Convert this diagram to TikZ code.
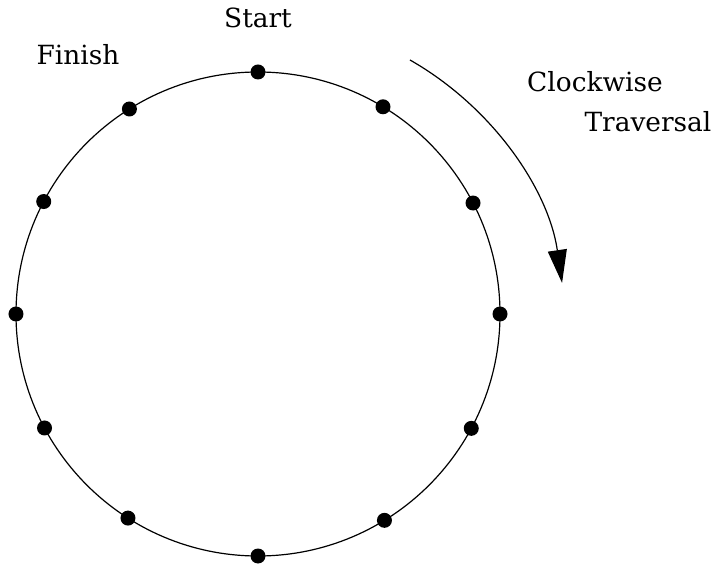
\documentclass[tikz,border=0pt]{standalone}
\usepackage{fontspec}
\setmainfont{DejaVu Serif}
\usetikzlibrary{arrows.meta,calc,positioning}
\tikzset{
  dot/.style={circle,fill=black,inner sep=0pt,minimum size=15bp},
  lbl/.style={font=\fontsize{26.5}{31}\selectfont,inner sep=0pt,anchor=base}
}

\begin{document}
\begin{tikzpicture}[x=1bp,y=1bp,>={Triangle[length=33bp,width=19bp]}]
      \useasboundingbox (-258,-251) rectangle (457,314);
      \coordinate (O) at (0,0);
      \draw[line width=1.2bp] (O) circle[radius=242];
      \foreach \a [count=\i] in {90,58.9,27.3,0,-28.2,-58.5,-90,-122.5,-151.9,180,152.3,122.1}
        \node[dot] (p\i) at ($(O)+(\a:242)$) {};
      \node[lbl] (start) at (0,286) {Start};
      \node[lbl] (finish) at (-180,249) {Finish};
      \node[lbl] (cw) at (337,222) {Clockwise};
      \node[lbl] (trav) at (390,182) {Traversal};
      % arrow arc, centre a little below O
      \coordinate (A) at (152,254);
      \draw[->,line width=1.2bp] (A) arc[start angle=60.35,end angle=8.24,radius=307.2];
    \end{tikzpicture}
\end{document}
